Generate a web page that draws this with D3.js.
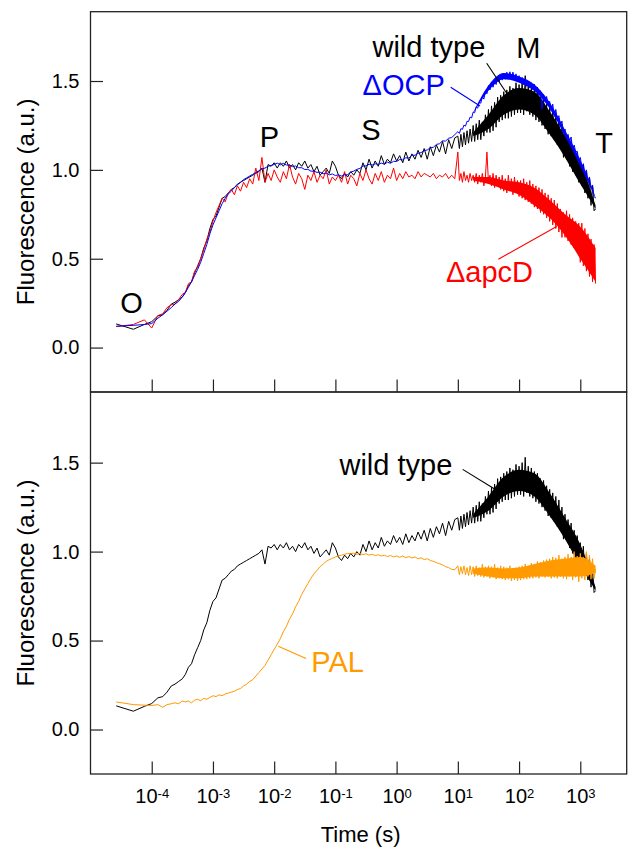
<!DOCTYPE html>
<html><head><meta charset="utf-8">
<script src="https://cdn.jsdelivr.net/npm/d3@7"></script>
<style>
body{margin:0;background:#fff}
svg{display:block}
text{font-family:"Liberation Sans",Arial,Helvetica,sans-serif}
</style>
</head><body>
<svg id="chart" width="628" height="847"></svg>
<script>
// log10 of time (s)
const logTime = [
-4.58,-4.30,-4.12,-4.00,-3.90,-3.82,-3.75,-3.68,-3.62,-3.56,-3.50,
-3.45,-3.40,-3.35,-3.30,-3.25,-3.20,-3.15,-3.10,-3.05,-3.00,
-2.95,-2.90,-2.85,-2.80,-2.75,-2.70,-2.65,-2.60,-2.55,-2.50,
-2.45,-2.40,-2.35,-2.30,-2.25,-2.20,-2.15,-2.10,-2.05,-2.00,
-1.95,-1.90,-1.85,-1.80,-1.75,-1.70,-1.65,-1.60,-1.55,-1.50,
-1.45,-1.40,-1.35,-1.30,-1.25,-1.20,-1.15,-1.10,-1.05,-1.00,
-0.95,-0.90,-0.85,-0.80,-0.75,-0.70,-0.65,-0.60,-0.55,-0.50,
-0.45,-0.40,-0.35,-0.30,-0.25,-0.20,-0.15,-0.10,-0.05,0.00,
0.05,0.10,0.15,0.20,0.25,0.30,0.35,0.40,0.45,0.50,
0.55,0.60,0.65,0.70,0.75,0.80,0.85,0.90,0.95,
1.000,1.025,1.050,1.075,1.100,1.125,1.150,1.175,1.200,1.225,
1.250,1.275,1.300,1.325,1.350,1.375,1.400,1.425,1.450,1.475,
1.500,1.525,1.550,1.575,1.600,1.625,1.650,1.675,1.700,1.725,
1.750,1.775,1.800,1.825,1.850,1.875,1.900,1.925,1.950,1.975,
2.000,2.025,2.050,2.075,2.100,2.125,2.150,2.175,2.200,2.225,
2.250,2.275,2.300,2.325,2.350,2.375,2.400,2.425,2.450,2.475,
2.500,2.525,2.550,2.575,2.600,2.625,2.650,2.675,2.700,2.725,
2.750,2.775,2.800,2.825,2.850,2.875,2.900,2.925,2.950,2.975,
3.000,3.025,3.050,3.075,3.100,3.125,3.150,3.175,3.200,3.225,
3.250
];

const wildType = [
0.133,0.103,0.130,0.146,0.178,0.185,0.210,0.245,0.255,0.270,0.285,
0.31,0.35,0.37,0.42,0.46,0.50,0.56,0.60,0.67,0.72,
0.74,0.79,0.84,0.85,0.87,0.89,0.90,0.92,0.93,0.94,
0.95,0.96,0.97,0.98,0.99,1.01,0.93,1.03,1.02,1.04,
1.01,1.04,1.02,1.05,1.01,1.03,1.00,1.04,1.02,1.05,
1.01,1.03,0.99,1.02,0.97,0.99,1.01,0.98,1.05,1.02,
0.97,0.95,0.98,0.96,0.99,0.97,1.00,0.98,1.04,1.00,
1.06,1.01,1.05,1.02,1.08,1.03,1.06,1.04,1.09,1.05,
1.08,1.04,1.10,1.05,1.09,1.06,1.11,1.07,1.12,1.06,
1.13,1.08,1.14,1.10,1.16,1.09,1.17,1.12,1.18,
1.19,1.12,1.20,1.13,1.21,1.14,1.22,1.15,1.23,1.16,
1.25,1.16,1.26,1.17,1.28,1.17,1.27,1.19,1.31,1.21,
1.34,1.21,1.36,1.22,1.38,1.24,1.41,1.27,1.42,1.28,
1.44,1.29,1.45,1.29,1.47,1.30,1.46,1.31,1.49,1.32,
1.48,1.32,1.50,1.31,1.53,1.33,1.48,1.31,1.47,1.30,
1.45,1.28,1.44,1.27,1.41,1.25,1.40,1.23,1.37,1.20,
1.35,1.19,1.33,1.17,1.31,1.14,1.29,1.12,1.25,1.07,
1.21,1.06,1.18,1.02,1.16,0.99,1.12,0.97,1.09,0.93,
1.05,0.91,1.03,0.87,0.99,0.84,0.96,0.80,0.91,0.77,
0.78
];

const deltaOCP = [
0.120,0.125,0.130,0.135,0.165,0.185,0.205,0.225,0.245,0.260,0.285,
0.31,0.34,0.37,0.405,0.44,0.48,0.53,0.58,0.64,0.69,
0.73,0.77,0.81,0.84,0.865,0.88,0.90,0.915,0.93,0.945,
0.955,0.965,0.975,0.985,0.995,1.005,1.01,1.02,1.025,1.03,
1.038,1.028,1.037,1.027,1.028,1.018,1.022,1.012,1.012,1.002,
1.003,0.993,0.992,0.986,0.987,0.978,0.982,0.972,0.977,0.968,
0.972,0.965,0.972,0.973,0.987,0.993,1.003,1.008,1.022,1.022,
1.032,1.027,1.034,1.031,1.038,1.032,1.043,1.037,1.048,1.047,
1.058,1.056,1.068,1.066,1.083,1.082,1.093,1.097,1.108,1.112,
1.124,1.127,1.143,1.147,1.163,1.162,1.178,1.182,1.198,
1.215,1.205,1.232,1.228,1.252,1.246,1.273,1.272,1.297,1.292,
1.325,1.322,1.355,1.347,1.380,1.375,1.412,1.398,1.440,1.428,
1.475,1.450,1.495,1.465,1.510,1.480,1.522,1.495,1.535,1.505,
1.545,1.510,1.550,1.515,1.552,1.520,1.550,1.510,1.540,1.497,
1.530,1.490,1.520,1.480,1.510,1.470,1.500,1.460,1.490,1.450,
1.482,1.440,1.465,1.420,1.445,1.340,1.425,1.385,1.413,1.360,
1.385,1.330,1.370,1.300,1.340,1.280,1.305,1.250,1.275,1.205,
1.230,1.175,1.200,1.160,1.185,1.115,1.140,1.100,1.105,1.050,
1.070,1.015,1.035,0.980,1.000,0.940,0.960,0.900,0.915,0.850,
0.840
];

const deltaApcD = [
0.118,0.130,0.156,0.110,0.180,0.190,0.225,0.240,0.245,0.270,0.300,
0.31,0.36,0.37,0.43,0.45,0.50,0.55,0.61,0.65,0.71,
0.76,0.80,0.84,0.82,0.87,0.89,0.86,0.91,0.88,0.93,
0.90,0.95,0.92,1.01,0.94,1.07,0.93,0.98,0.94,1.00,
0.96,0.93,0.99,0.95,1.03,0.96,0.92,0.98,0.95,0.89,
0.97,0.94,0.99,0.93,0.97,0.95,1.00,0.92,0.96,0.94,
0.97,0.93,0.99,0.92,0.97,0.95,0.91,0.98,0.94,1.00,
0.95,0.92,0.98,0.94,0.99,0.93,0.97,0.95,1.01,0.94,
0.98,0.95,0.99,0.96,0.97,0.95,0.99,0.96,0.98,0.97,
0.96,0.98,0.95,0.97,0.96,0.98,0.95,0.97,0.95,
1.10,0.94,0.98,0.93,0.99,0.94,0.97,0.93,0.98,0.94,
0.97,0.93,0.98,0.92,0.97,0.93,0.98,0.91,0.96,1.10,
0.93,0.97,0.91,0.98,0.90,0.97,0.91,0.96,0.89,0.97,
0.88,0.95,0.87,0.97,0.88,0.95,0.86,0.96,0.87,0.94,
0.85,0.94,0.84,0.95,0.83,0.93,0.82,0.94,0.81,0.92,
0.79,0.91,0.78,0.90,0.76,0.89,0.75,0.87,0.73,0.86,
0.71,0.84,0.69,0.83,0.67,0.81,0.65,0.78,0.62,0.76,
0.62,0.77,0.60,0.75,0.58,0.73,0.56,0.71,0.54,0.70,
0.48,0.70,0.46,0.67,0.43,0.64,0.40,0.61,0.37,0.58,
0.36
];

const pal = [
0.155,0.140,0.137,0.135,0.140,0.125,0.140,0.145,0.150,0.145,0.160,
0.155,0.160,0.150,0.165,0.170,0.162,0.175,0.170,0.180,0.190,
0.185,0.195,0.190,0.200,0.205,0.210,0.215,0.225,0.230,0.245,
0.255,0.270,0.280,0.300,0.320,0.340,0.360,0.390,0.420,0.450,
0.48,0.51,0.55,0.58,0.62,0.65,0.69,0.72,0.76,0.79,
0.82,0.85,0.875,0.895,0.915,0.93,0.945,0.955,0.962,0.97,
0.975,0.98,0.985,0.99,0.988,0.992,0.985,0.99,0.983,0.988,
0.98,0.985,0.978,0.982,0.975,0.98,0.972,0.978,0.97,0.975,
0.968,0.975,0.966,0.972,0.964,0.97,0.96,0.965,0.955,0.96,
0.95,0.945,0.938,0.932,0.925,0.915,0.91,0.90,0.898,
0.920,0.870,0.915,0.875,0.920,0.870,0.910,0.865,0.920,0.870,
0.915,0.860,0.920,0.865,0.910,0.860,0.930,0.855,0.915,0.860,
0.920,0.850,0.915,0.855,0.930,0.845,0.910,0.850,0.920,0.845,
0.915,0.840,0.910,0.845,0.920,0.835,0.905,0.840,0.910,0.835,
0.915,0.840,0.920,0.845,0.930,0.845,0.920,0.850,0.935,0.850,
0.930,0.855,0.945,0.850,0.940,0.860,0.950,0.855,0.955,0.860,
0.960,0.850,0.970,0.855,0.965,0.850,0.980,0.860,0.960,0.850,
0.970,0.845,0.985,0.860,0.970,0.840,1.000,0.855,0.975,0.830,
0.990,0.850,0.970,0.840,1.000,0.860,0.980,0.845,0.960,0.850,
0.900
];

// dense-noise envelopes (log10 time, low, high)
const bandLogTime = [1.25, 1.50, 1.75, 2.00, 2.25, 2.50, 2.75, 3.00, 3.25];
const wildTypeBandLow  = [1.19, 1.23, 1.31, 1.34, 1.31, 1.20, 1.07, 0.92, 0.78];
const wildTypeBandHigh = [1.21, 1.31, 1.42, 1.46, 1.44, 1.33, 1.19, 1.04, 0.80];
const deltaOCPBandLow  = [1.318, 1.445, 1.510, 1.490, 1.445, 1.345, 1.190, 1.020, 0.840];
const deltaOCPBandHigh = [1.322, 1.475, 1.545, 1.525, 1.480, 1.380, 1.225, 1.055, 0.845];
const deltaApcDBandLow  = [0.94, 0.92, 0.89, 0.86, 0.80, 0.73, 0.63, 0.50, 0.37];
const deltaApcDBandHigh = [0.96, 0.96, 0.94, 0.93, 0.90, 0.83, 0.75, 0.68, 0.56];
const palBandLow  = [0.875, 0.86, 0.85, 0.85, 0.86, 0.86, 0.86, 0.86, 0.88];
const palBandHigh = [0.905, 0.91, 0.905, 0.91, 0.93, 0.95, 0.96, 0.97, 0.92];

const xTickExponents = [-4,-3,-2,-1,0,1,2,3];
const yTickValues = [0.0,0.5,1.0,1.5];

// annotations in data space (log10 time, fluorescence)
const topLabels = [
  {text:"O", lt:-4.33, v:0.195, color:"#000", anchor:"middle"},
  {text:"P", lt:-2.076, v:1.129, color:"#000", anchor:"middle"},
  {text:"S", lt:-0.418, v:1.168, color:"#000", anchor:"middle"},
  {text:"M", lt:2.151, v:1.628, color:"#000", anchor:"middle"},
  {text:"T", lt:3.387, v:1.093, color:"#000", anchor:"middle"},
  {text:"wild type", lt:-0.394, v:1.637, color:"#000", anchor:"start"},
  {text:"\u0394OCP", lt:-0.557, v:1.421, color:"#0000ff", anchor:"start"},
  {text:"\u0394apcD", lt:0.806, v:0.370, color:"#ff0000", anchor:"start"}
];
const topLeaders = [
  {lt1:1.471, v1:1.600, lt2:1.798, v2:1.431, color:"#000"},
  {lt1:0.883, v1:1.465, lt2:1.362, v2:1.359, color:"#0000ff"},
  {lt1:1.661, v1:0.497, lt2:2.614, v2:0.681, color:"#ff0000"}
];
const bottomLabels = [
  {text:"wild type", lt:-0.933, v:1.430, color:"#000", anchor:"start"},
  {text:"PAL", lt:-1.395, v:0.324, color:"#ff9a00", anchor:"start"}
];
const bottomLeaders = [
  {lt1:1.079, v1:1.462, lt2:1.607, v2:1.350, color:"#000"},
  {lt1:-1.932, v1:0.468, lt2:-1.479, v2:0.399, color:"#ff9a00"}
];

const svg = d3.select("#chart");
const left = 90.5, right = 626.7;
const x = d3.scaleLog().domain([1e-5, Math.pow(10, 3.758)]).range([left, right]);
const panels = [
  {top:11.7, bottom:392, domain:[-0.25, 1.89]},
  {top:392, bottom:774, domain:[-0.25, 1.897]}
];
panels.forEach(p => { p.y = d3.scaleLinear().domain(p.domain).range([p.bottom, p.top]); });

const frameColor = "#222";

function drawBand(panel, low, high, color) {
  const area = d3.area()
    .x((d, i) => x(Math.pow(10, bandLogTime[i])))
    .y0((d, i) => panel.y(low[i]))
    .y1((d, i) => panel.y(high[i]))
    .curve(d3.curveMonotoneX);
  svg.append("path").datum(low).attr("fill", color).attr("stroke", "none").attr("d", area);
}

function drawSeries(panel, values, color) {
  const line = d3.line()
    .defined((d, i) => d != null && logTime[i] != null)
    .x((d, i) => x(Math.pow(10, logTime[i])))
    .y(d => panel.y(d));
  svg.append("path").datum(values)
    .attr("fill", "none").attr("stroke", color).attr("stroke-width", 1)
    .attr("stroke-linejoin", "miter").attr("d", line);
}

function drawLabels(panel, labels, leaders) {
  leaders.forEach(l => {
    svg.append("line")
      .attr("x1", x(Math.pow(10, l.lt1))).attr("y1", panel.y(l.v1))
      .attr("x2", x(Math.pow(10, l.lt2))).attr("y2", panel.y(l.v2))
      .attr("stroke", l.color).attr("stroke-width", 1.1);
  });
  labels.forEach(l => {
    svg.append("text")
      .attr("x", x(Math.pow(10, l.lt))).attr("y", panel.y(l.v))
      .attr("text-anchor", l.anchor).attr("fill", l.color)
      .attr("font-size", 29).text(l.text);
  });
}

// data
drawBand(panels[0], wildTypeBandLow, wildTypeBandHigh, "#000");
drawSeries(panels[0], wildType, "#000");
drawBand(panels[0], deltaApcDBandLow, deltaApcDBandHigh, "#ff0000");
drawSeries(panels[0], deltaApcD, "#ff0000");
drawBand(panels[0], deltaOCPBandLow, deltaOCPBandHigh, "#0000ff");
drawSeries(panels[0], deltaOCP, "#0000ff");
drawBand(panels[1], wildTypeBandLow, wildTypeBandHigh, "#000");
drawSeries(panels[1], wildType, "#000");
drawBand(panels[1], palBandLow, palBandHigh, "#ff9a00");
drawSeries(panels[1], pal, "#ff9a00");

// axes
panels.forEach((p, idx) => {
  const gx = svg.append("g").attr("transform", `translate(0,${p.bottom})`)
    .call(d3.axisBottom(x).tickValues(xTickExponents.map(e => Math.pow(10, e)))
      .tickSize(-12.5).tickFormat(""));
  gx.select(".domain").remove();
  gx.selectAll("line").attr("stroke", frameColor).attr("stroke-width", 1.2);
  if (idx === 1) {
    gx.selectAll(".tick").each(function(d, i) {
      const t = d3.select(this).append("text")
        .attr("y", 29).attr("text-anchor", "middle").attr("fill", "#000")
        .attr("font-size", 20);
      t.append("tspan").text("10");
      t.append("tspan").attr("font-size", 13).attr("dy", -5).text(xTickExponents[i]);
    });
  }
  const gy = svg.append("g").attr("transform", `translate(${left},0)`)
    .call(d3.axisLeft(p.y).tickValues(yTickValues).tickSize(-12.5)
      .tickPadding(11).tickFormat(d3.format(".1f")));
  gy.select(".domain").remove();
  gy.selectAll("line").attr("stroke", frameColor).attr("stroke-width", 1.2);
  gy.selectAll("text").attr("font-size", 20).attr("fill", "#000")
    .attr("font-family", '"Liberation Sans",Arial,sans-serif');

  svg.append("rect").attr("x", left).attr("y", p.top)
    .attr("width", right - left).attr("height", p.bottom - p.top)
    .attr("fill", "none").attr("stroke", frameColor).attr("stroke-width", 1.3);

  svg.append("text")
    .attr("transform", `translate(34,${(p.top + p.bottom) / 2}) rotate(-90)`)
    .attr("text-anchor", "middle").attr("font-size", 24).attr("fill", "#000")
    .text("Fluorescence (a.u.)");
});

drawLabels(panels[0], topLabels, topLeaders);
drawLabels(panels[1], bottomLabels, bottomLeaders);

svg.append("text").attr("x", (left + right) / 2 + 2).attr("y", 842)
  .attr("text-anchor", "middle").attr("font-size", 22).attr("fill", "#000")
  .text("Time (s)");
</script>
</body></html>
